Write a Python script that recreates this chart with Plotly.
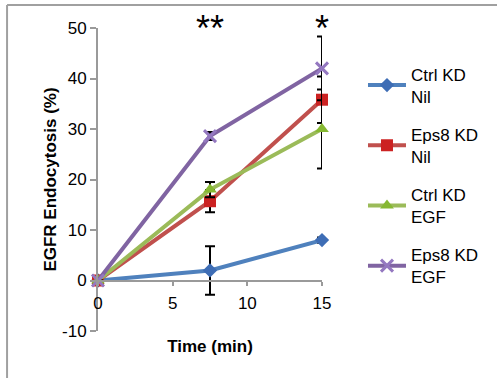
import plotly.graph_objects as go

time_min = [0, 7.5, 15]
series_names = ["Ctrl KD<br>Nil", "Eps8 KD<br>Nil", "Ctrl KD<br>EGF", "Eps8 KD<br>EGF"]
ctrl_nil = [0, 2.0, 8.0]
ctrl_nil_err = [0, 4.8, 0.5]
eps8_nil = [0, 15.7, 35.8]
eps8_nil_err = [0, 2.2, 4.6]
ctrl_egf = [0, 18.0, 30.0]
ctrl_egf_err = [0, 1.5, 7.8]
eps8_egf = [0, 28.6, 42.0]
eps8_egf_err = [0, 0.8, 6.3]
sig_x = [7.5, 15]
sig_labels = ["**", "*"]
x_ticks = [0, 5, 10, 15]
x_tick_labels = ["0", "5", "10", "15"]
y_ticks = [-10, 0, 10, 20, 30, 40, 50]
y_tick_labels = ["-10", "0", "10", "20", "30", "40", "50"]

values = [ctrl_nil, eps8_nil, ctrl_egf, eps8_egf]
errors = [ctrl_nil_err, eps8_nil_err, ctrl_egf_err, eps8_egf_err]
line_colors = ["#4F81BD", "#C0504D", "#9BBB59", "#8064A2"]
marker_colors = ["#3E6DB5", "#CC2222", "#86B832", "#9478C0"]
symbols = ["diamond", "square", "triangle-up", "x-thin-open"]
sizes = [11, 12, 12, 12]

FONT = "Liberation Sans, Arial, Helvetica, sans-serif"
FS = 17

fig = go.Figure()
for i in range(4):
    mk = dict(symbol=symbols[i], size=sizes[i], color=marker_colors[i])
    if symbols[i] == "x-thin-open":
        mk["line"] = dict(color=marker_colors[i], width=3)
    fig.add_trace(go.Scatter(
        x=time_min, y=values[i], name=series_names[i], mode="lines+markers",
        line=dict(color=line_colors[i], width=4),
        marker=mk,
        error_y=dict(type="data", array=errors[i], visible=True, color="black",
                     thickness=2, width=5),
        legendgroup=str(i), cliponaxis=False,
    ))

for x, lab in zip(sig_x, sig_labels):
    fig.add_annotation(x=x, y=50, xref="x", yref="y", text=lab, showarrow=False,
                       yanchor="bottom", yshift=-23,
                       font=dict(family=FONT, size=36, color="black"))

frame_top = 1.076
frame_left = -0.406
fig.add_shape(type="line", xref="paper", yref="paper", x0=frame_left, x1=3,
              y0=frame_top, y1=frame_top, line=dict(color="#A0A0A0", width=2))
fig.add_shape(type="line", xref="paper", yref="paper", x0=frame_left, x1=frame_left,
              y0=frame_top, y1=-1, line=dict(color="#A0A0A0", width=2))

fig.update_layout(
    width=497, height=378,
    margin=dict(l=98, r=175, t=28, b=47),
    paper_bgcolor="white", plot_bgcolor="white",
    font=dict(family=FONT, size=FS, color="black"),
    showlegend=True,
    legend=dict(x=1.183, y=0.906, xanchor="left", yanchor="top",
                font=dict(family=FONT, size=FS, color="black"),
                itemwidth=38, tracegroupgap=13, bgcolor="rgba(0,0,0,0)"),
    xaxis=dict(range=[0, 15], tickvals=x_ticks, ticktext=x_tick_labels,
               showgrid=False, zeroline=False,
               showline=True, linecolor="#9A9A9A", linewidth=2,
               ticks="outside", ticklen=4, tickcolor="#9A9A9A", tickwidth=2,
               ticklabelstandoff=3,
               anchor="free", position=1/6,
               tickfont=dict(size=FS),
               title=dict(text="<b>Time (min)</b>", font=dict(size=FS), standoff=27)),
    yaxis=dict(range=[-10, 50], tickvals=y_ticks, ticktext=y_tick_labels,
               showgrid=False, zeroline=False,
               showline=True, linecolor="#9A9A9A", linewidth=2,
               ticks="outside", ticklen=6, tickcolor="#9A9A9A", tickwidth=2,
               tickfont=dict(size=FS),
               title=dict(text="<b>EGFR Endocytosis (%)</b>", font=dict(size=FS), standoff=1)),
)

fig.write_html("out.html", config={"displayModeBar": False},
               post_script="document.body.style.margin='0';window.dispatchEvent(new Event('resize'));")
